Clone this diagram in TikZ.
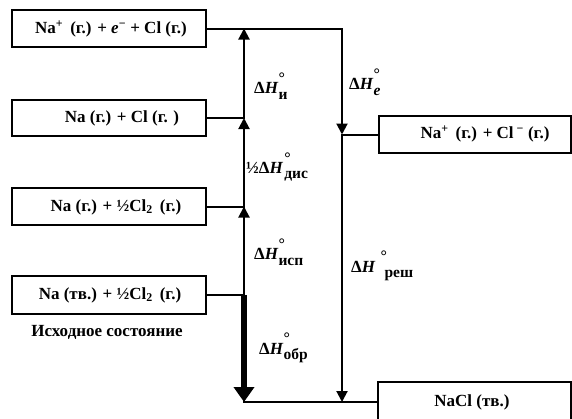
\documentclass[tikz,border=0pt]{standalone}
\usepackage{fontspec}
\setmainfont{Liberation Serif}
\usetikzlibrary{arrows.meta}
\newcommand\dHsym[2][0pt]{Δ\textit{H}\kern#1\rlap{\raisebox{1.3ex}{\fontsize{16}{16}\selectfont °}}\raisebox{-0.7ex}{\fontsize{15.5}{15.5}\selectfont #2}}
\begin{document}
\begin{tikzpicture}[x=1pt,y=-1pt,
  font=\fontsize{17}{20}\selectfont\bfseries,
  box/.style={draw, line width=1.8pt, minimum width=194pt, minimum height=37pt, inner sep=0pt},
  txt/.style={inner sep=0pt},
  lbl/.style={inner sep=0pt, anchor=west},
  ln/.style={line width=2pt, line cap=rect},
  arr/.style={line width=2pt, -{Triangle[length=11pt,width=11pt]}},
  thickarr/.style={line width=6pt, -{Triangle[length=15pt,width=20pt]}}]
\clip (0,0) rectangle (572,418);
% boxes
\node[box] (b1) at (109,28.5) {};
\node[box, minimum height=36pt] (b2) at (109,118) {};
\node[box] (b3) at (109,206.5) {};
\node[box, minimum height=38pt] (b4) at (109,295) {};
\node[box, minimum width=192pt] (b5) at (475,134.5) {};
\node[box, minimum width=193pt, minimum height=40pt] (b6) at (474.5,402) {};
% texts
\node[txt] (t1) at (111,29) {Na\textsuperscript{+}\, (г.) + \textit{e}\textsuperscript{−} + Cl (г.)};
\node[txt] (t2) at (122,118) {Na (г.) + Cl (г. )};
\node[txt] (t3) at (116,207) {Na (г.) + ½Cl\textsubscript{2}\, (г.)};
\node[txt] (t4) at (110,295) {Na (тв.) + ½Cl\textsubscript{2}\, (г.)};
\node[txt] (t5) at (485,134) {Na\textsuperscript{+}\, (г.) + Cl\,\textsuperscript{−} (г.)};
\node[txt] (t6) at (472,402) {NaCl (тв.)};
\node[txt] (init) at (107,332) {Исходное состояние};
% coordinates
\coordinate (L1) at (244,28.5);
\coordinate (L2) at (244,118);
\coordinate (L3) at (244,206.5);
\coordinate (L4) at (244,295);
\coordinate (L5) at (244,402);
\coordinate (R1) at (342,28.5);
\coordinate (R2) at (342,134.5);
\coordinate (R3) at (342,402);
% horizontal lines
\draw[ln] (b1.east) -- (R1);
\draw[ln] (b2.east) -- (L2);
\draw[ln] (b3.east) -- (L3);
\draw[ln] (b4.east) -- (L4);
\draw[ln] (R2) -- (b5.west);
\draw[ln] (L5) -- (b6.west);
% vertical arrows
\draw[arr] (L2) -- (L1);
\draw[arr] (L3) -- (L2);
\draw[arr] (L4) -- (L3);
\draw[thickarr] (L4) -- (L5);
\draw[arr] (R1) -- (R2);
\draw[arr] (R2) -- (R3);
% labels
\node[lbl] (hi) at (254,86) {\dHsym{и}};
\node[lbl] (he) at (349,82) {\dHsym{\textit{e}}};
\node[lbl] (hd) at (246,167) {½\dHsym[1pt]{дис}};
\node[lbl] (hs) at (254,252) {\dHsym{исп}};
\node[lbl] (hr) at (351,266) {\dHsym[5pt]{\kern4pt реш}};
\node[lbl] (ho) at (259,348) {\dHsym{обр}};
\end{tikzpicture}
\end{document}
